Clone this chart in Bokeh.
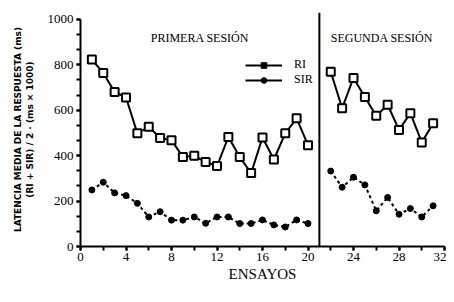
from bokeh.plotting import figure
from bokeh.models import (Range1d, SingleIntervalTicker, Span, Label, Legend, LegendItem)
from bokeh.embed import file_html
from bokeh.resources import INLINE

# ---- data ----
ri_x = [1, 2, 3, 4, 5, 6, 7, 8, 9, 10, 11, 12, 13, 14, 15, 16, 17, 18, 19, 20]
ri_y = [823, 764, 680, 656, 498, 527, 478, 468, 394, 399, 372, 354, 482, 394, 323, 480, 383, 498, 564, 446]
ri2_x = [22, 23, 24, 25, 26, 27, 28, 29, 30, 31]
ri2_y = [769, 609, 742, 658, 575, 624, 513, 587, 458, 542]

sir_x = [1, 2, 3, 4, 5, 6, 7, 8, 9, 10, 11, 12, 13, 14, 15, 16, 17, 18, 19, 20]
sir_y = [249, 283, 236, 224, 190, 130, 153, 116, 116, 130, 102, 130, 130, 101, 101, 117, 95, 86, 117, 101]
sir2_x = [22, 23, 24, 25, 26, 27, 28, 29, 30, 31]
sir2_y = [332, 261, 305, 271, 157, 216, 142, 167, 130, 179]

session_names = ["PRIMERA SESIÓN", "SEGUNDA SESIÓN"]
session_bounds = [0, 21, 32]
series_names = ["RI", "SIR"]

x_label = "ENSAYOS"
y_label = "LATENCIA MEDIA DE LA RESPUESTA (ms)\n(RI + SIR) / 2 · (ms × 1000)"

SERIF = "Liberation Serif"
NAN = float("nan")

p = figure(width=446, height=286, output_backend="svg", toolbar_location=None,
           x_range=Range1d(0, 32), y_range=Range1d(0, 1030),
           min_border_left=80, min_border_right=2, min_border_top=12, min_border_bottom=40)
p.grid.visible = False
p.outline_line_color = None
p.background_fill_color = "white"

# axes
p.xaxis.ticker = SingleIntervalTicker(interval=4, num_minor_ticks=2)
p.yaxis.ticker = SingleIntervalTicker(interval=200, num_minor_ticks=3)
p.yaxis.bounds = (0, 1000)
for ax in (p.xaxis, p.yaxis):
    ax.axis_line_width = 2
    ax.major_tick_line_width = 2
    ax.minor_tick_line_width = 2
    ax.major_tick_in = 0
    ax.minor_tick_in = 0
    ax.major_tick_out = 4
    ax.minor_tick_out = 4
    ax.major_label_text_font = SERIF
    ax.major_label_text_font_size = "13px"
    ax.major_label_text_color = "black"
    ax.axis_line_color = "black"
    ax.major_tick_line_color = "black"
    ax.minor_tick_line_color = "black"
p.xaxis.major_label_standoff = 2
p.yaxis.major_label_standoff = 3
p.xaxis.axis_label = x_label
p.xaxis.axis_label_text_font = SERIF
p.xaxis.axis_label_text_font_size = "15px"
p.xaxis.axis_label_text_font_style = "normal"
p.xaxis.axis_label_text_color = "black"
p.xaxis.axis_label_standoff = 2
p.yaxis.axis_label = y_label
p.yaxis.axis_label_text_font = "DejaVu Sans"
p.yaxis.axis_label_text_font_size = "9px"
p.yaxis.axis_label_text_font_style = "bold"
p.yaxis.axis_label_text_color = "black"
p.yaxis.axis_label_standoff = 10

# session separator
p.add_layout(Span(location=session_bounds[1], dimension="height", line_color="black", line_width=2))

# session titles
for i, name in enumerate(session_names):
    cx = (session_bounds[i] + session_bounds[i + 1]) / 2
    p.add_layout(Label(x=cx, y=209, y_units="screen", text=name, text_align="center",
                       text_baseline="middle", text_font=SERIF, text_font_size="12px",
                       text_color="black"))

# series
for xs, ys in ((sir_x, sir_y), (sir2_x, sir2_y)):
    p.line(xs, ys, line_color="black", line_width=2, line_dash="3 3")
    p.scatter(xs, ys, marker="circle", size=6, fill_color="black", line_color="black")
for xs, ys in ((ri_x, ri_y), (ri2_x, ri2_y)):
    p.line(xs, ys, line_color="black", line_width=2)
    p.scatter(xs, ys, marker="square", size=8, fill_color="white", line_color="black", line_width=2)

# legend proxies (solid lines with filled markers), not drawn in the plot
ri_l = p.line([NAN], [NAN], line_color="black", line_width=2)
ri_m = p.scatter([NAN], [NAN], marker="square", size=6, fill_color="black", line_color="black")
sir_l = p.line([NAN], [NAN], line_color="black", line_width=2)
sir_m = p.scatter([NAN], [NAN], marker="circle", size=6, fill_color="black", line_color="black")
legend = Legend(items=[LegendItem(label=series_names[0], renderers=[ri_l, ri_m]),
                       LegendItem(label=series_names[1], renderers=[sir_l, sir_m])],
                location=(165, 159), border_line_color=None, background_fill_alpha=0,
                label_text_font=SERIF, label_text_font_size="12px", label_text_color="black",
                glyph_width=37, glyph_height=14, label_height=14, spacing=0,
                padding=0, margin=0, label_standoff=12)
p.add_layout(legend, "center")

open("out.html", "w").write(file_html(p, INLINE))
